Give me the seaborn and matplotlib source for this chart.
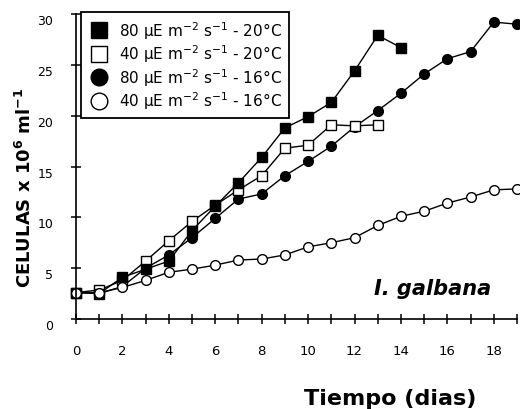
import matplotlib
matplotlib.use("Agg")
import matplotlib.pyplot as plt
import matplotlib.transforms as mtransforms
from matplotlib.lines import Line2D
from matplotlib.ticker import MultipleLocator
import pandas as pd
import seaborn as sns

# ---- data ----
days_80_20 = list(range(0, 15))
cells_80_20 = [2.6, 2.5, 4.1, 4.9, 5.7, 8.7, 11.1, 13.4, 15.9, 18.8, 19.9, 21.3, 24.4, 27.9, 26.7]

days_40_20 = list(range(0, 14))
cells_40_20 = [2.6, 2.85, 3.8, 5.7, 7.7, 9.6, 11.2, 12.7, 14.1, 16.8, 17.1, 19.1, 19.0, 19.1]

days_80_16 = list(range(0, 20))
cells_80_16 = [2.6, 2.5, 3.2, 5.0, 6.3, 8.0, 9.9, 11.8, 12.3, 14.1, 15.5, 17.0, 18.9, 20.5,
               22.2, 24.1, 25.6, 26.3, 29.2, 29.0]

days_40_16 = list(range(0, 20))
cells_40_16 = [2.6, 2.6, 3.1, 3.8, 4.6, 4.9, 5.3, 5.8, 5.9, 6.3, 7.1, 7.5, 8.0, 9.2,
               10.1, 10.6, 11.4, 12.0, 12.7, 12.8]

labels = [
    r"80 μE m$^{-2}$ s$^{-1}$ - 20°C",
    r"40 μE m$^{-2}$ s$^{-1}$ - 20°C",
    r"80 μE m$^{-2}$ s$^{-1}$ - 16°C",
    r"40 μE m$^{-2}$ s$^{-1}$ - 16°C",
]
x_ticks = list(range(0, 20, 2))
y_ticks = list(range(0, 31, 5))

sns.set_theme(style="ticks")
plt.rcParams["font.family"] = ["DejaVu Sans"]
plt.rcParams["mathtext.fontset"] = "dejavusans"
plt.rcParams["text.color"] = "black"
plt.rcParams["axes.labelcolor"] = "black"

fig = plt.figure(figsize=(5.2, 4.1), dpi=100)
fig.patch.set_facecolor("white")
ax = fig.add_axes([76 / 520, 90 / 410, (517 - 76) / 520, 305 / 410])
ax.set_facecolor("white")

series = [
    (days_80_16, cells_80_16, "o", "black"),
    (days_40_20, cells_40_20, "s", "white"),
    (days_80_20, cells_80_20, "s", "black"),
    (days_40_16, cells_40_16, "o", "white"),
]
for d, c, m, fc in series:
    df = pd.DataFrame({"dia": d, "celulas": c})
    sns.lineplot(data=df, x="dia", y="celulas", ax=ax, color="black", linewidth=1.0,
                 marker=m, markersize=7, markerfacecolor=fc,
                 markeredgecolor="black", markeredgewidth=1.0, clip_on=False,
                 legend=False, errorbar=None)

ax.set_xlim(0, 19)
ax.set_ylim(0, 30)
ax.set_xticks(x_ticks)
ax.set_xticklabels([str(t) for t in x_ticks])
ax.xaxis.set_minor_locator(MultipleLocator(1))
ax.set_yticks(y_ticks)
ax.set_yticklabels([str(t) for t in y_ticks])

for s in ["top", "right"]:
    ax.spines[s].set_visible(False)
for s in ["left", "bottom"]:
    ax.spines[s].set_color("black")
    ax.spines[s].set_linewidth(1.2)

ax.tick_params(axis="both", which="both", direction="inout", length=6.5, width=1.1,
               color="black", labelcolor="black")
ax.tick_params(axis="x", which="both", pad=15, labelsize=9.5)
ax.tick_params(axis="y", which="both", pad=13, labelsize=9)

offset = mtransforms.ScaledTranslation(0, -5 / 100, fig.dpi_scale_trans)
for lab in ax.get_yticklabels():
    lab.set_transform(lab.get_transform() + offset)

ax.set_xlabel("Tiempo (dias)", fontsize=16, fontweight="bold", color="black")
ax.xaxis.set_label_coords(390 / 520, 1 - 399 / 410, transform=fig.transFigure)
ax.xaxis.label.set_va("center")

ax.set_ylabel(r"CELULAS x 10$^{\mathbf{6}}$ ml$^{\mathbf{-1}}$", fontsize=13,
              fontweight="bold", color="black")
ax.yaxis.set_label_coords(25 / 520, 1 - 188 / 410, transform=fig.transFigure)
ax.yaxis.label.set_va("center")
ax.yaxis.label.set_rotation_mode("default")

ax.text(433 / 520, 1 - 289 / 410, "I. galbana", transform=fig.transFigure,
        fontsize=15, fontweight="bold", fontstyle="italic", ha="center", va="center",
        color="black")

handles = [
    Line2D([], [], linestyle="none", marker="s", markersize=12, markerfacecolor="black",
           markeredgecolor="black"),
    Line2D([], [], linestyle="none", marker="s", markersize=12, markerfacecolor="white",
           markeredgecolor="black"),
    Line2D([], [], linestyle="none", marker="o", markersize=12, markerfacecolor="black",
           markeredgecolor="black"),
    Line2D([], [], linestyle="none", marker="o", markersize=12, markerfacecolor="white",
           markeredgecolor="black"),
]
leg = ax.legend(handles, labels, loc="upper left", bbox_to_anchor=(81 / 520, 1 - 13 / 410),
                bbox_transform=fig.transFigure, borderaxespad=0, fontsize=11,
                frameon=True, fancybox=False, framealpha=1, edgecolor="black",
                handlelength=1.5, handletextpad=0.55, labelspacing=0.12, borderpad=0.45,
                labelcolor="black")
leg.get_frame().set_linewidth(1.3)

fig.savefig("out.png", dpi=100, facecolor="white")
